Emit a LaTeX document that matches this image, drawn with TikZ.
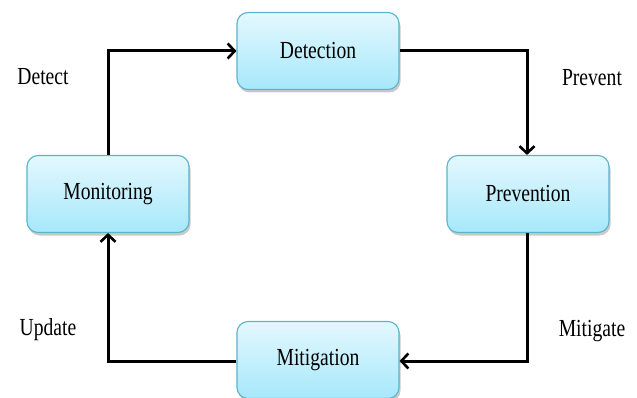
\documentclass[tikz,border=0pt]{standalone}
\usepackage{fontspec}
\setmainfont{Liberation Serif}[FakeStretch=0.8]
\usetikzlibrary{arrows.meta,shadows}
\definecolor{boxtop}{HTML}{E4F8FE}
\definecolor{boxbot}{HTML}{A6E8FB}
\definecolor{boxedge}{HTML}{5AB4CC}
\begin{document}
\begin{tikzpicture}[x=1pt,y=-1pt,
  stagebox/.style={draw=boxedge, line width=1.1pt, rounded corners=11pt,
    top color=boxtop, bottom color=boxbot,
    minimum width=162pt, minimum height=77pt, inner sep=0pt,
    font=\fontsize{24.5}{28}\selectfont,
    drop shadow={shadow xshift=1.5pt, shadow yshift=-3pt, opacity=0.35, fill=black!60}},
  lbl/.style={font=\fontsize{24.5}{28}\selectfont, inner sep=0pt},
  flow/.style={draw=black, line width=3pt, -{Straight Barb[length=7pt,width=15pt,line width=2.6pt]}}]
\useasboundingbox (0,0) rectangle (637,398);
\node[stagebox] (det) at (318,51) {Detection};
\node[stagebox] (pre) at (528,194) {Prevention};
\node[stagebox] (mit) at (318,360) {Mitigation};
\node[stagebox] (mon) at (108,194) {Monitoring};
\coordinate (c1) at (108,51);
\coordinate (c2) at (527,51);
\coordinate (c3) at (527,361);
\coordinate (c4) at (108,361);
\draw[flow] (mon.north) -- (c1) -- (det.west);
\draw[flow] (det.east) -- (c2) -- (pre.north -| c2);
\draw[flow] (pre.south -| c3) -- (c3) -- (mit.east |- c3);
\draw[flow] (mit.west |- c4) -- (c4) -- (mon.south);
\node[lbl] (ldet) at (43,77) {Detect};
\node[lbl] (lpre) at (592,78) {Prevent};
\node[lbl] (lupd) at (48,330) {Update};
\node[lbl] (lmit) at (592,331) {Mitigate};
\end{tikzpicture}
\end{document}
